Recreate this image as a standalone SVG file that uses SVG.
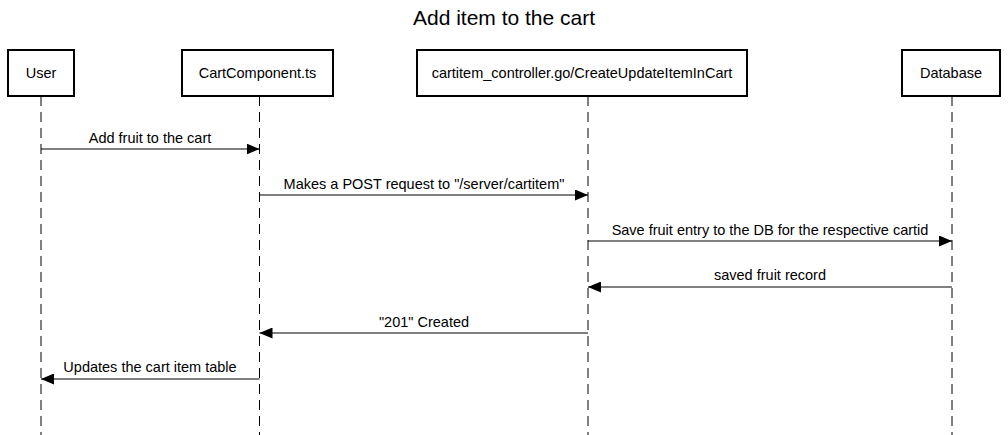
<svg xmlns="http://www.w3.org/2000/svg" width="1008" height="435" viewBox="0 0 1008 435">
<style>
text{font-family:"Liberation Sans",Arial,sans-serif;fill:#000}
.box{fill:#fff;stroke:#000;stroke-width:2}
.lbl{font-size:14.5px;text-anchor:middle}
.life{stroke:#000;stroke-width:1;stroke-dasharray:10 6;fill:none}
.msg{stroke:#000;stroke-width:1.2;fill:none}
</style>
<defs>
<marker id="ah" viewBox="0 0 13 11" refX="13" refY="5.5" markerWidth="13" markerHeight="11" markerUnits="userSpaceOnUse" orient="auto">
<path d="M0,0 L13,5.5 L0,11 Z" fill="#000"/>
</marker>
</defs>
<rect width="1008" height="435" fill="#fff"/>
<text x="504" y="25" font-size="21" text-anchor="middle">Add item to the cart</text>
<g id="lifelines">
<line class="life" x1="41" y1="96" x2="41" y2="435"/>
<line class="life" x1="259.5" y1="96" x2="259.5" y2="435"/>
<line class="life" x1="588" y1="96" x2="588" y2="435"/>
<line class="life" x1="952" y1="96" x2="952" y2="435"/>
</g>
<g id="user"><rect class="box" x="8" y="50" width="66" height="46"/><text class="lbl" x="41" y="78">User</text></g>
<g id="cart"><rect class="box" x="182" y="50" width="151" height="46"/><text class="lbl" x="257.5" y="78">CartComponent.ts</text></g>
<g id="controller"><rect class="box" x="417" y="50" width="330" height="46"/><text class="lbl" x="582" y="78">cartitem_controller.go/CreateUpdateItemInCart</text></g>
<g id="database"><rect class="box" x="902" y="50" width="98" height="46"/><text class="lbl" x="951" y="78">Database</text></g>
<g id="connectors">
<line class="msg" x1="41" y1="149" x2="259.5" y2="149" marker-end="url(#ah)"/>
<text class="lbl" x="150" y="143">Add fruit to the cart</text>
<line class="msg" x1="259.5" y1="195" x2="588" y2="195" marker-end="url(#ah)"/>
<text class="lbl" x="424" y="189">Makes a POST request to "/server/cartitem"</text>
<line class="msg" x1="588" y1="241" x2="952" y2="241" marker-end="url(#ah)"/>
<text class="lbl" x="770" y="235">Save fruit entry to the DB for the respective cartid</text>
<line class="msg" x1="952" y1="287" x2="588" y2="287" marker-end="url(#ah)"/>
<text class="lbl" x="770" y="280">saved fruit record</text>
<line class="msg" x1="588" y1="333" x2="259.5" y2="333" marker-end="url(#ah)"/>
<text class="lbl" x="424" y="327">"201" Created</text>
<line class="msg" x1="259.5" y1="379" x2="41" y2="379" marker-end="url(#ah)"/>
<text class="lbl" x="150" y="372">Updates the cart item table</text>
</g>
</svg>
